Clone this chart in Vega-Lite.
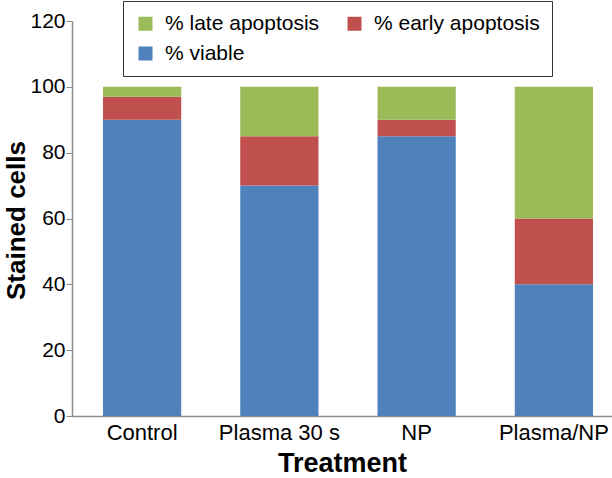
{
  "$schema": "https://vega.github.io/schema/vega-lite/v6.json",
  "autosize": "none",
  "width": 540,
  "height": 395,
  "padding": {"left": 72, "top": 21, "right": 0, "bottom": 62},
  "background": "white",
  "config": {
    "font": "Liberation Sans",
    "view": {"stroke": null},
    "axis": {"grid": false, "domainColor": "#8c8c8c", "tickColor": "#8c8c8c", "labelColor": "#000", "titleColor": "#000", "labelFont": "Liberation Sans", "titleFont": "Liberation Sans"}
  },
  "data": {
    "values": [
      {"treatment": "Control", "category": "% viable", "value": 90, "ord": 1},
      {"treatment": "Control", "category": "% early apoptosis", "value": 7, "ord": 2},
      {"treatment": "Control", "category": "% late apoptosis", "value": 3, "ord": 3},
      {"treatment": "Plasma 30 s", "category": "% viable", "value": 70, "ord": 1},
      {"treatment": "Plasma 30 s", "category": "% early apoptosis", "value": 15, "ord": 2},
      {"treatment": "Plasma 30 s", "category": "% late apoptosis", "value": 15, "ord": 3},
      {"treatment": "NP", "category": "% viable", "value": 85, "ord": 1},
      {"treatment": "NP", "category": "% early apoptosis", "value": 5, "ord": 2},
      {"treatment": "NP", "category": "% late apoptosis", "value": 10, "ord": 3},
      {"treatment": "Plasma/NP", "category": "% viable", "value": 40, "ord": 1},
      {"treatment": "Plasma/NP", "category": "% early apoptosis", "value": 20, "ord": 2},
      {"treatment": "Plasma/NP", "category": "% late apoptosis", "value": 40, "ord": 3}
    ]
  },
  "mark": {"type": "bar"},
  "encoding": {
    "x": {
      "field": "treatment", "type": "nominal", "sort": null,
      "scale": {"paddingInner": 0.43, "paddingOuter": 0.182, "align": 0.62},
      "axis": {"title": "Treatment", "labelAngle": 0, "labelFontSize": 22, "ticks": false, "labelPadding": 6, "titleFontSize": 27, "titleFontWeight": "bold", "titlePadding": 7, "domainWidth": 1.5}
    },
    "y": {
      "field": "value", "type": "quantitative", "stack": "zero",
      "scale": {"domain": [0, 120], "nice": false},
      "axis": {"title": "Stained cells", "values": [0, 20, 40, 60, 80, 100, 120], "labelFontSize": 21, "tickSize": 6, "labelPadding": 1, "titleFontSize": 26, "titleFontWeight": "bold", "titleX": -69, "titleY": 199, "titleBaseline": "top", "domainWidth": 1.5}
    },
    "color": {
      "field": "category", "type": "nominal",
      "scale": {"domain": ["% late apoptosis", "% early apoptosis", "% viable"], "range": ["#9BBB59", "#C0504D", "#4F81BD"]},
      "legend": {
        "title": null, "orient": "none", "legendX": 51, "legendY": -20, "direction": "horizontal",
        "columns": 2, "columnPadding": 24, "rowPadding": 8,
        "symbolType": "square", "symbolSize": 196, "symbolStrokeWidth": 0,
        "labelFontSize": 21, "labelColor": "#000", "labelOffset": 9, "labelLimit": 400,
        "strokeColor": "#333", "padding": 12, "fillColor": "white"
      }
    },
    "order": {"field": "ord", "type": "quantitative"}
  }
}
